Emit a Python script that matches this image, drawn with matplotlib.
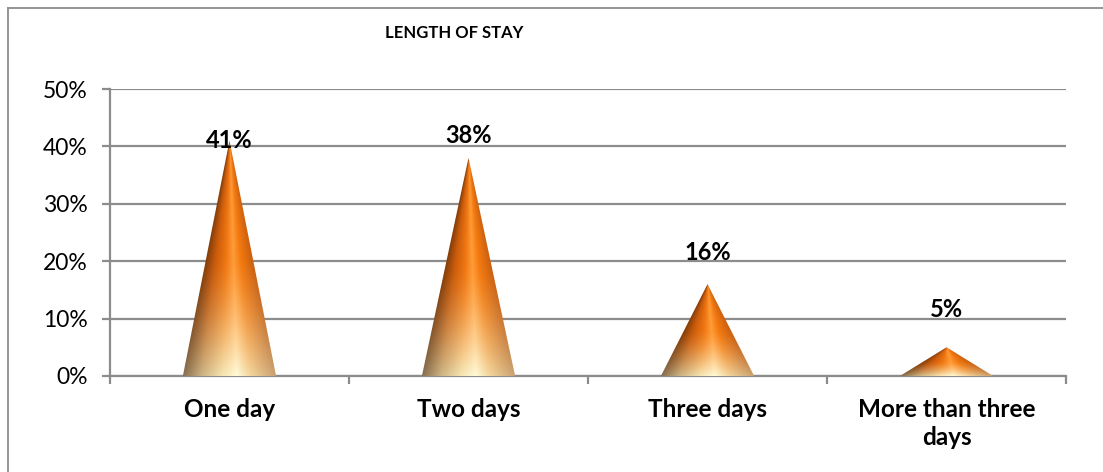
import numpy as np
import matplotlib.pyplot as plt
from matplotlib.patches import Polygon
from matplotlib.lines import Line2D

# data
categories = ['One day', 'Two days', 'Three days', 'More than three\ndays']
values = [0.41, 0.38, 0.16, 0.05]
value_labels = ['41%', '38%', '16%', '5%']
yticks = [0, 0.1, 0.2, 0.3, 0.4, 0.5]
ytick_labels = ['0%', '10%', '20%', '30%', '40%', '50%']

plt.rcParams['font.family'] = ['Lato', 'DejaVu Sans']

fig = plt.figure(figsize=(11.03, 4.72), dpi=100)
ax = fig.add_axes([0.0997, 0.2034, 0.8668, 0.608])

grid_c = '#8c8c8c'

# orange cone colouring, across the cone (s from -1 to 1)
s_pts = [-1.0, -0.6, -0.15, 0.15, 0.45, 1.0]
top_cols = np.array([[0x84, 0x3e, 0x0a], [0xcc, 0x5c, 0x0c], [0xf0, 0x78, 0x12],
                     [0xff, 0x9c, 0x38], [0xf4, 0x7a, 0x10], [0xc8, 0x5e, 0x10]]) / 255.
bot_cols = np.array([[0x86, 0x70, 0x52], [0xcc, 0xb4, 0x84], [0xf6, 0xe6, 0xb4],
                     [0xff, 0xfa, 0xd8], [0xf2, 0xd4, 0x9c], [0xc8, 0xa0, 0x70]]) / 255.

def cone(ax, xc, h, w):
    nx, ny = 200, 300
    xs = np.linspace(-1, 1, nx)
    ys = np.linspace(0, 1, ny)
    X, Y = np.meshgrid(xs, ys)
    local = np.clip(1 - Y, 1e-3, None)
    s = np.clip(X / local, -1, 1)
    top = np.stack([np.interp(s, s_pts, top_cols[:, k]) for k in range(3)], -1)
    bot = np.stack([np.interp(s, s_pts, bot_cols[:, k]) for k in range(3)], -1)
    blend = np.clip(1 - Y / 0.5, 0, 1) ** 1.4
    img = top * (1 - blend[..., None]) + bot * blend[..., None]
    im = ax.imshow(img, extent=[xc - w / 2, xc + w / 2, 0, h], origin='lower',
                   aspect='auto', interpolation='bilinear', zorder=3)
    tri = Polygon([[xc - w / 2, 0], [xc + w / 2, 0], [xc, h]], closed=True,
                  transform=ax.transData, facecolor='none', edgecolor='none')
    ax.add_patch(tri)
    im.set_clip_path(tri)

label_off = [0, 22, 32, 38]
for i, v in enumerate(values):
    cone(ax, i, v, 0.39)
    ax.annotate(value_labels[i], (i, v), xytext=(0, label_off[i]),
                textcoords='offset pixels', ha='center', va='center',
                fontsize=17, fontweight='bold', zorder=5)

ax.set_xlim(-0.5, len(categories) - 0.5)
ax.set_ylim(0, 0.5)
ax.set_yticks(yticks)
ax.set_yticklabels(ytick_labels, fontsize=16.5)
for y in yticks:
    ax.axhline(y, color=grid_c, lw=1.6, zorder=1)

ax.set_xticks(range(len(categories)))
ax.set_xticklabels(categories, fontsize=17.5, fontweight='bold', linespacing=1.25)
ax.set_xticks(np.arange(-0.5, len(categories)), minor=True)
ax.tick_params(axis='x', which='major', length=0, pad=16)
ax.tick_params(axis='x', which='minor', length=6, width=1.6, color=grid_c)
ax.tick_params(axis='y', length=6, width=1.6, color=grid_c, pad=10)

for side in ['top', 'right']:
    ax.spines[side].set_visible(False)
for side in ['left', 'bottom']:
    ax.spines[side].set_color(grid_c)
    ax.spines[side].set_linewidth(1.6)

fig.text(0.412, 0.93, 'LENGTH OF STAY', fontsize=12, fontweight='bold',
         ha='center', va='center')

# outer chart border (only left and top visible)
fig.add_artist(Line2D([8 / 1103, 8 / 1103], [0, 1 - 8 / 472], color='#8c8c8c', lw=1.3))
fig.add_artist(Line2D([8 / 1103, 1], [1 - 8 / 472, 1 - 8 / 472], color='#8c8c8c', lw=1.3))

fig.savefig('out.png', dpi=100)
